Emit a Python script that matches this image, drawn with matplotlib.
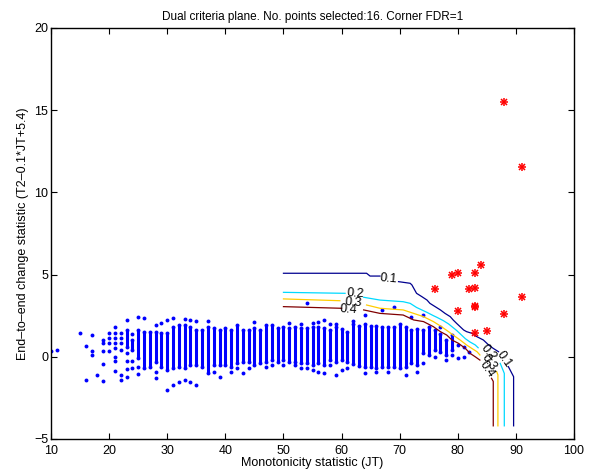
import matplotlib
matplotlib.use("Agg")
import matplotlib.pyplot as plt
import numpy as np

plt.rcParams['font.family'] = ['Liberation Sans', 'DejaVu Sans']

# columnas densas de puntos (JT entero, limite inferior y superior)
col_jt = list(range(23, 80))
col_lo = [0.6, 0.4, -0.1, -0.70, -0.60, -0.30, -0.60, -0.80, -0.70, -0.60,
          -0.70, -0.50, -0.50, -0.60, -1.01, -0.50, -0.50, -0.50, -0.60, -0.40,
          -0.30, -0.30, -0.50, -0.40, -0.30, -0.20, -0.30, -0.20, -0.30, -0.30,
          -0.40, -0.40, -0.50, -0.40, -0.50, -0.20, -0.30, -0.20, -0.30, -0.45,
          -0.55, -0.60, -0.60, -0.70, -0.60, -0.60, -0.60, -0.70, -0.60, -0.40,
          -0.50, 0.2, 0.1, 0.4, 0.3, 0.1, 0.4]
col_hi = [1.6, 1.0, 1.63, 1.53, 1.53, 1.53, 1.43, 1.43, 1.83, 1.93,
          1.93, 1.83, 1.63, 1.63, 1.83, 1.73, 1.63, 1.73, 1.63, 1.93,
          1.63, 1.63, 1.73, 1.63, 1.93, 1.93, 1.73, 1.83, 1.73, 1.83,
          1.73, 1.73, 1.83, 1.83, 1.73, 1.63, 1.83, 1.67, 1.53, 2.0,
          1.85, 2.0, 1.9, 1.9, 1.8, 1.8, 1.8, 2.0, 1.8, 1.6,
          1.7, 1.6, 1.8, 1.6, 1.4, 1.0, 1.3]

# puntos sueltos
suelto_jt = [10, 11, 15, 16, 16, 17, 17, 17, 18,
             19, 19, 19, 19, 19, 20, 20, 20, 20,
             21, 21, 21, 21, 21, 21, 21, 21,
             22, 22, 22, 22, 22, 22,
             23, 23, 23, 23, 23, 24, 24, 24, 25, 25, 25, 26,
             28, 28, 28, 29, 30, 30, 31, 31, 32, 33, 33, 34, 34, 35, 35,
             37, 38, 39, 41, 42, 43, 44, 45, 47, 48, 50, 51, 52,
             53, 53, 54, 54, 55, 55, 56, 56, 57, 57,
             58, 58, 59, 59, 60, 61, 62,
             64, 64, 66, 67, 68, 69, 71, 72, 73, 74, 74,
             76, 77, 78, 79, 80, 80, 81, 81, 82]
suelto_y = [0.37, 0.41, 1.47, 0.66, -1.41, 1.30, 0.37, 0.11, -1.09,
            1.02, 0.82, 0.35, -0.44, -1.45, 1.47, 1.16, 0.82, 0.35,
            1.79, 1.47, 1.16, 0.82, 0.51, 0.01, -0.26, -0.87,
            1.47, 1.16, 0.82, 0.41, -1.11, -1.41,
            2.24, 0.21, -0.26, -0.76, -1.25, 1.4, -0.26, -0.70, 2.4, -0.60, -1.05, 2.38,
            1.93, -0.90, -1.31, 2.03, 2.24, -2.02, 2.38, -1.72, -1.51, 2.30, -1.41, 2.24, -1.51, 2.18, -1.72,
            2.18, -0.90, -1.25, -0.91, -0.70, -1.01, -0.70, 2.14, -0.60, -0.50, -0.50, 2.03, -0.50,
            1.99, -0.70, -0.70, 3.30, 2.08, -0.80, 2.14, -0.91, 2.24, -1.01,
            1.99, -0.50, 1.99, -1.11, -0.80, -0.70, 2.20,
            2.54, -1.01, -0.91, 2.85, -0.91, 3.0, -1.11, 2.44, -0.91, 2.54, -0.40,
            0.0, 1.83, -0.2, 0.1, 0.72, -0.09, 0.0, 0.6, 0.3]

# puntos seleccionados (estrellas rojas)
sel_jt = [88, 91, 76, 79, 80, 84, 83, 82, 83, 91, 83, 83, 80, 88, 83, 85]
sel_y = [15.52, 11.56, 4.12, 4.98, 5.10, 5.60, 5.08, 4.10, 4.19, 3.65, 3.03, 3.10, 2.76, 2.59, 1.47, 1.57]

# curvas de nivel FDR
niveles = ["0.1", "0.2", "0.3", "0.4"]
colores = [(0, 0, 0.56), (0, 0.85, 1), (1, 0.8, 0), (0.5, 0, 0)]
curva_x = [
    [50, 64.3, 64.9, 66.6, np.nan, 69.8, 71.8, 72.1, 72.9, 73.8, 74.7, 75.2, 76.1, 77.0,
     77.8, 78.7, 79.2, 79.8, 80.4, 81.0, 81.5, 82.4, 83.3, 84.4, 85.3, 86.1, 87.0,
     np.nan, 88.7, 89.6, 89.6],
    [50, 60.6, np.nan, 63.8, 66.6, 70.6, 71.8, 72.9, 73.8, 74.7, 75.8, 76.4, 77.5, 78.4,
     79.0, 79.8, 80.4, 81.3, 82.1, 83.0, 83.5, np.nan, 87.3, 88.0, 88.0],
    [50, 59.7, np.nan, 64.3, 66.6, 70.6, 72.4, 74.1, 75.8, 77.2, 78.4, 79.2, 80.4, 81.5,
     82.4, 83.3, 83.8, np.nan, 86.7, 86.9, 86.9],
    [50, 60.0, np.nan, 63.8, 66.6, 70.6, 72.4, 74.1, 75.8, 77.0, 78.1, 79.0, 80.1, 81.3,
     82.1, 83.0, 83.8, np.nan, 85.8, 86.1, 86.1],
]
curva_y = [
    [5.08, 5.08, 4.91, 4.91, np.nan, 4.57, 4.47, 4.37, 3.86, 3.66, 3.45, 3.25, 3.05, 2.85,
     2.64, 2.44, 2.24, 2.03, 1.83, 1.63, 1.53, 1.43, 1.22, 1.02, 0.72, 0.51, 0.31,
     np.nan, -0.60, -1.21, -4.2],
    [3.92, 3.86, np.nan, 3.62, 3.45, 3.35, 3.25, 3.0, 2.85, 2.70, 2.50, 2.40, 2.20, 2.00,
     1.83, 1.60, 1.40, 1.10, 0.90, 0.72, 0.55, np.nan, -0.40, -1.01, -4.2],
    [3.52, 3.41, np.nan, 3.15, 2.95, 2.85, 2.64, 2.44, 2.14, 1.83, 1.53, 1.32, 1.02, 0.72,
     0.51, 0.31, 0.11, np.nan, -0.91, -1.1, -4.2],
    [3.05, 2.95, np.nan, 2.85, 2.64, 2.54, 2.24, 2.14, 1.83, 1.53, 1.32, 1.02, 0.82, 0.51,
     0.21, 0.0, -0.20, np.nan, -1.31, -1.5, -4.2],
]
# etiquetas de las curvas: (x, y, rotacion) a la izquierda y a la derecha
etiq_izq = [(68.1, 4.72, -5), (62.3, 3.82, -4), (62.0, 3.30, -4), (61.2, 2.88, -4)]
etiq_der = [(88.0, -0.15, -55), (85.3, 0.22, -50), (85.4, -0.35, -55), (85.0, -0.75, -55)]

fig = plt.figure(figsize=(5.89, 4.73), dpi=100)
ax = fig.add_axes([0.0866, 0.0719, 0.888, 0.869])

azul = (0, 0, 1)
ax.vlines(col_jt, col_lo, col_hi, colors=[azul], linewidth=2.2)
ax.plot(col_jt, col_lo, 'o', color=azul, ms=2.8, mew=0)
ax.plot(col_jt, col_hi, 'o', color=azul, ms=2.8, mew=0)
ax.plot(suelto_jt, suelto_y, 'o', color=azul, ms=2.8, mew=0)

for i in range(len(niveles)):
    ax.plot(curva_x[i], curva_y[i], color=colores[i], linewidth=0.9)
    x, y, r = etiq_izq[i]
    ax.text(x, y, niveles[i], rotation=r, ha='center', va='center', fontsize=9)
    x, y, r = etiq_der[i]
    ax.text(x, y, niveles[i], rotation=r, ha='center', va='center', fontsize=9)

ax.plot(sel_jt, sel_y, '+', color='red', ms=6, mew=1.1)
ax.plot(sel_jt, sel_y, 'x', color='red', ms=4.5, mew=1.1)

ax.set_xlim(10, 100)
ax.set_ylim(-5, 20)
ax.set_xticks(np.arange(10, 101, 10))
ax.set_yticks(np.arange(-5, 21, 5))
ax.set_yticklabels(['\u22125', '0', '5', '10', '15', '20'])
ax.tick_params(direction='in', top=True, right=True, length=4, width=0.8,
               labelsize=9, pad=2)
ax.tick_params(axis='x', pad=4)
for s in ax.spines.values():
    s.set_linewidth(1.0)

ax.set_title("Dual criteria plane. No. points selected:16. Corner FDR=1", fontsize=8.5, pad=6)
ax.set_xlabel("Monotonicity statistic (JT)", fontsize=9, labelpad=0)
ax.set_ylabel("End\u2013to\u2013end change statistic (T2\u20130.1*JT+5.4)", fontsize=9, labelpad=4)

fig.savefig("out.png", dpi=100)
